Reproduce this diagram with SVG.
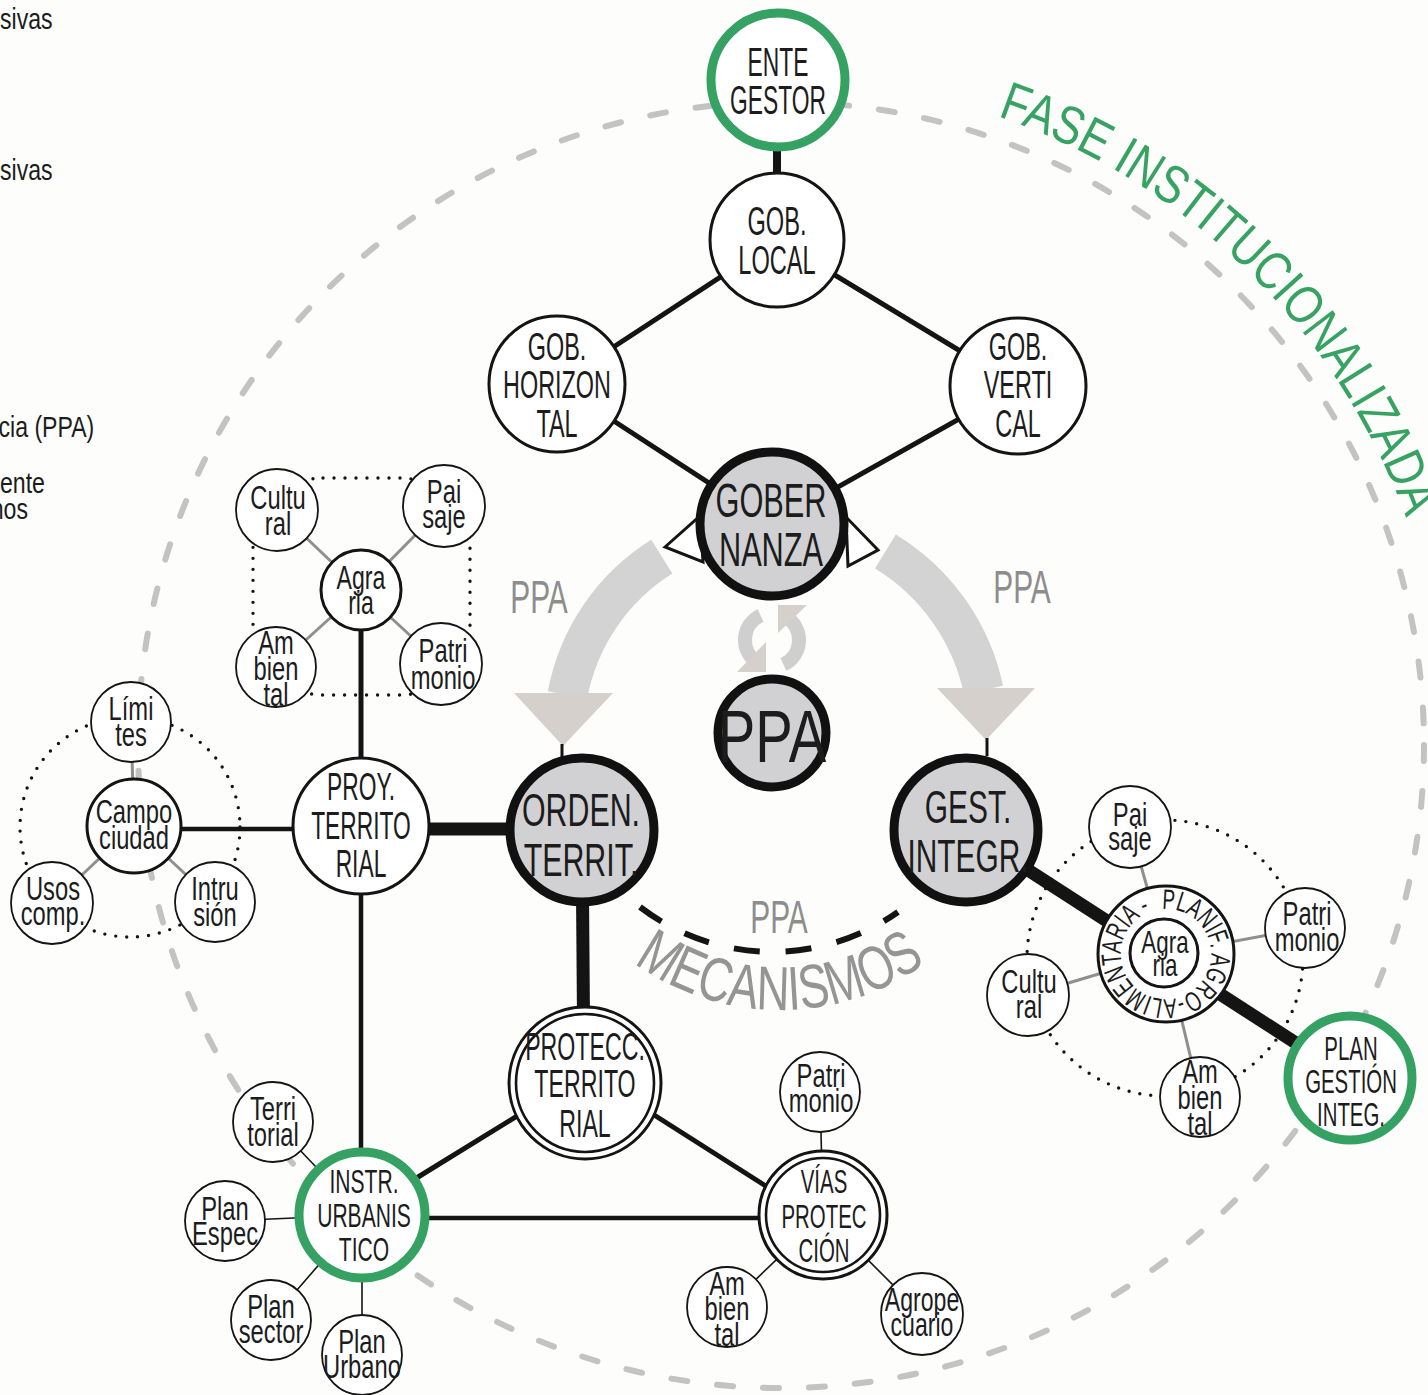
<svg xmlns="http://www.w3.org/2000/svg" width="1428" height="1395" viewBox="0 0 1428 1395">
<defs>
<style>
text{font-family:"Liberation Sans",Arial,sans-serif;fill:#1c1c1c;text-anchor:middle}
.side{text-anchor:start;font-size:30px}
.n{fill:#fff;stroke:#141414;stroke-width:3}
.s{fill:#fff;stroke:#141414;stroke-width:1.8}
.k{fill:#d1d1d3;stroke:#111;stroke-width:9}
.g{fill:#fff;stroke:#35a162;stroke-width:9}
.dbl{fill:none;stroke:#141414;stroke-width:2.6}
.c{stroke:#141414;fill:none}
.gray{stroke:#8f8f8f;stroke-width:3}
.thin{stroke:#141414;stroke-width:1.6}
.dots{fill:none;stroke:#141414;stroke-width:3.4;stroke-linecap:round;stroke-dasharray:0 11}
.ppa{fill:#8d8d8d}
.flow{fill:none;stroke:#d3d3d3;stroke-width:40}
.head{fill:#d6d0cd}
.ref{fill:none;stroke:#cfcfcf;stroke-width:14}
</style>
<path id="faseArc" d="M997.5,116.2 A665,665 0 0 1 1435.9,629.5"/>
<path id="mecArc" d="M563.5,885 A250,250 0 0 0 996.5,885"/>
<path id="ringArc" d="M1162,909.1 A45,45 0 0 1 1170,998.9 A45,45 0 0 1 1162,909.1"/>
</defs>
<rect width="1428" height="1395" fill="#fdfdfb"/>

<g id="side-texts">
<g transform="scale(0.77,1)"><text class="side" x="0" y="29">sivas</text></g>
<g transform="scale(0.77,1)"><text class="side" x="0" y="180">sivas</text></g>
<g transform="scale(0.77,1)"><text class="side" x="-2" y="437">cia (PPA)</text></g>
<g transform="scale(0.77,1)"><text class="side" x="0" y="493">ente</text></g>
<g transform="scale(0.77,1)"><text class="side" x="-12" y="519">nos</text></g>
</g>

<g id="phase-boundary">
<circle cx="781" cy="745" r="643" fill="none" stroke="#c3c3c3" stroke-width="6" stroke-dasharray="16 30" stroke-linecap="round"/>
<text font-size="54" style="fill:#37a363" textLength="592" lengthAdjust="spacingAndGlyphs"><textPath href="#faseArc" textLength="592" lengthAdjust="spacingAndGlyphs" style="text-anchor:start">FASE INSTITUCIONALIZADA</textPath></text>
</g>

<g id="cluster-boundaries">
<rect class="dots" x="253" y="478" width="217" height="217" rx="70"/>
<circle class="dots" cx="130" cy="827" r="110"/>
<circle class="dots" cx="1165" cy="958" r="138"/>
</g>

<g id="flows">
<path class="flow" d="M661.8,556.6 A208,208 0 0 0 567.5,695"/>
<polygon class="head" points="514,693 613,693 563,746"/>
<path class="flow" d="M885.4,551.5 A214,214 0 0 1 983.5,690"/>
<polygon class="head" points="937,688 1035,688 986,740"/>
<path class="ref" d="M760.6,615.5 A27,27 0 0 0 758.5,663.4"/>
<polygon class="head" points="766,642 766,672 737,672"/>
<path class="ref" d="M783.4,664.5 A27,27 0 0 0 785.5,616.6"/>
<polygon class="head" points="778,605 807,605 778,633"/>
<polygon points="665,547 700,516 703,562" fill="#fff" stroke="#141414" stroke-width="3"/>
<polygon points="878,550 846,517 848,566" fill="#fff" stroke="#141414" stroke-width="3"/>
<g transform="translate(539,0) scale(0.65,1)"><text class="ppa" font-size="46" y="613">PPA</text></g>
<g transform="translate(1022,0) scale(0.65,1)"><text class="ppa" font-size="46" y="603">PPA</text></g>
</g>

<g id="connectors">
<line class="c" x1="777" y1="146" x2="777" y2="176" stroke-width="8"/>
<line class="c" x1="777" y1="240" x2="557" y2="384" stroke-width="5"/>
<line class="c" x1="777" y1="240" x2="1018" y2="386" stroke-width="5"/>
<line class="c" x1="557" y1="384" x2="772" y2="524" stroke-width="5"/>
<line class="c" x1="1018" y1="386" x2="772" y2="524" stroke-width="5"/>
<line class="c" x1="361" y1="829" x2="582" y2="829" stroke-width="13"/>
<line class="c" x1="361" y1="590" x2="361" y2="826" stroke-width="5"/>
<line class="c" x1="134" y1="829" x2="361" y2="829" stroke-width="4.5"/>
<line class="c" x1="361" y1="826" x2="361" y2="1215" stroke-width="4.5"/>
<line class="c" x1="582" y1="830" x2="584" y2="1083" stroke-width="13"/>
<line class="c" x1="410" y1="1182" x2="530" y2="1108" stroke-width="5"/>
<line class="c" x1="640" y1="1106" x2="772" y2="1190" stroke-width="5"/>
<line class="c" x1="362" y1="1218" x2="823" y2="1218" stroke-width="4.5"/>
<line class="c" x1="966" y1="830" x2="1350" y2="1078" stroke-width="13"/>
<line class="c" x1="562" y1="744" x2="562" y2="758" stroke-width="3"/>
<line class="c" x1="987" y1="738" x2="987" y2="756" stroke-width="3"/>
<line class="gray" x1="361" y1="590" x2="277" y2="510"/>
<line class="gray" x1="361" y1="590" x2="444" y2="506"/>
<line class="gray" x1="361" y1="590" x2="276" y2="667"/>
<line class="gray" x1="361" y1="590" x2="441" y2="664"/>
<line class="gray" x1="134" y1="826" x2="131" y2="722"/>
<line class="gray" x1="134" y1="826" x2="52" y2="903"/>
<line class="gray" x1="134" y1="826" x2="215" y2="902"/>
<line class="gray" x1="1166" y1="954" x2="1130" y2="827"/>
<line class="gray" x1="1166" y1="954" x2="1305" y2="928"/>
<line class="gray" x1="1166" y1="954" x2="1028" y2="995"/>
<line class="gray" x1="1166" y1="954" x2="1200" y2="1097"/>
<line class="thin" x1="362" y1="1215" x2="273" y2="1122"/>
<line class="thin" x1="362" y1="1215" x2="225" y2="1221"/>
<line class="thin" x1="362" y1="1215" x2="271" y2="1320"/>
<line class="thin" x1="362" y1="1215" x2="362" y2="1355"/>
<line class="thin" x1="823" y1="1215" x2="820" y2="1092"/>
<line class="thin" x1="823" y1="1215" x2="727" y2="1307"/>
<line class="thin" x1="823" y1="1215" x2="922" y2="1314"/>
<path d="M640,907 A218,218 0 0 0 898,912" fill="none" stroke="#141414" stroke-width="6" stroke-dasharray="26 25.8"/>
</g>

<g id="mecanismos">
<g transform="translate(779,0) scale(0.65,1)"><text class="ppa" font-size="46" y="933">PPA</text></g>
<text font-size="62" style="fill:#959595" textLength="312" lengthAdjust="spacingAndGlyphs"><textPath href="#mecArc" startOffset="50%" textLength="312" lengthAdjust="spacingAndGlyphs">MECANISMOS</textPath></text>
</g>

<g id="ente-gestor"><circle class="g" cx="778" cy="80" r="67"/>
<g transform="translate(778,0) scale(0.57,1)"><text font-size="40" y="76">ENTE</text><text font-size="40" y="114">GESTOR</text></g></g>

<g id="gob-local"><circle class="n" cx="777" cy="240" r="67"/>
<g transform="translate(777,0) scale(0.59,1)"><text font-size="40" y="235">GOB.</text><text font-size="40" y="274">LOCAL</text></g></g>

<g id="gob-horizontal"><circle class="n" cx="557" cy="384" r="68"/>
<g transform="translate(557,0) scale(0.6,1)"><text font-size="39" y="360">GOB.</text><text font-size="39" y="398">HORIZON</text><text font-size="39" y="437">TAL</text></g></g>

<g id="gob-vertical"><circle class="n" cx="1018" cy="386" r="68"/>
<g transform="translate(1018,0) scale(0.6,1)"><text font-size="39" y="360">GOB.</text><text font-size="39" y="398">VERTI</text><text font-size="39" y="437">CAL</text></g></g>

<g id="gobernanza"><circle class="k" cx="772" cy="524" r="72"/>
<g transform="translate(771,0) scale(0.64,1)"><text font-size="48" y="517">GOBER</text><text font-size="48" y="566">NANZA</text></g></g>

<g id="ppa"><circle class="k" cx="772" cy="733" r="54" stroke-width="8"/>
<g transform="translate(772,0) scale(0.75,1)"><text font-size="75" y="762">PPA</text></g></g>

<g id="orden-territ"><circle class="k" cx="582" cy="830" r="72"/>
<g transform="translate(581,0) scale(0.66,1)"><text font-size="46" y="826">ORDEN.</text><text font-size="46" y="876">TERRIT.</text></g></g>

<g id="gest-integr"><circle class="k" cx="966" cy="830" r="72"/>
<g transform="translate(968,0) scale(0.65,1)"><text font-size="46" y="823">GEST.</text><text font-size="46" y="872">INTEGR.</text></g></g>

<g id="proy-territorial"><circle class="n" cx="361" cy="826" r="68"/>
<g transform="translate(361,0) scale(0.6,1)"><text font-size="38" y="800">PROY.</text><text font-size="38" y="839">TERRITO</text><text font-size="38" y="877">RIAL</text></g></g>

<g id="agraria-1"><circle class="n" cx="361" cy="590" r="40"/>
<g transform="translate(361,0) scale(0.7,1)"><text font-size="33" y="589">Agra</text><text font-size="33" y="614">ria</text></g></g>
<g id="cultural-1"><circle class="s" cx="277" cy="510" r="41"/>
<g transform="translate(278,0) scale(0.72,1)"><text font-size="33" y="509">Cultu</text><text font-size="33" y="535">ral</text></g></g>
<g id="paisaje-1"><circle class="s" cx="444" cy="506" r="41"/>
<g transform="translate(444,0) scale(0.72,1)"><text font-size="33" y="503">Pai</text><text font-size="33" y="528">saje</text></g></g>
<g id="ambiental-1"><circle class="s" cx="276" cy="667" r="40"/>
<g transform="translate(276,0) scale(0.72,1)"><text font-size="33" y="654">Am</text><text font-size="33" y="680">bien</text><text font-size="33" y="706">tal</text></g></g>
<g id="patrimonio-1"><circle class="s" cx="441" cy="664" r="41"/>
<g transform="translate(443,0) scale(0.72,1)"><text font-size="33" y="662">Patri</text><text font-size="33" y="689">monio</text></g></g>

<g id="campo-ciudad"><circle class="n" cx="134" cy="826" r="47"/>
<g transform="translate(134,0) scale(0.72,1)"><text font-size="33" y="823">Campo</text><text font-size="33" y="849">ciudad</text></g></g>
<g id="limites"><circle class="s" cx="131" cy="722" r="40"/>
<g transform="translate(131,0) scale(0.72,1)"><text font-size="33" y="720">Lími</text><text font-size="33" y="746">tes</text></g></g>
<g id="usos-comp"><circle class="s" cx="52" cy="903" r="41"/>
<g transform="translate(53,0) scale(0.72,1)"><text font-size="33" y="900">Usos</text><text font-size="33" y="925">comp.</text></g></g>
<g id="intrusion"><circle class="s" cx="215" cy="902" r="40"/>
<g transform="translate(215,0) scale(0.72,1)"><text font-size="33" y="900">Intru</text><text font-size="33" y="926">sión</text></g></g>

<g id="instr-urbanistico"><circle class="g" cx="362" cy="1215" r="63"/>
<g transform="translate(364,0) scale(0.62,1)"><text font-size="34" y="1193">INSTR.</text><text font-size="34" y="1227">URBANIS</text><text font-size="34" y="1261">TICO</text></g></g>
<g id="territorial"><circle class="s" cx="273" cy="1122" r="40"/>
<g transform="translate(273,0) scale(0.72,1)"><text font-size="33" y="1120">Terri</text><text font-size="33" y="1146">torial</text></g></g>
<g id="plan-espec"><circle class="s" cx="225" cy="1221" r="40"/>
<g transform="translate(225,0) scale(0.72,1)"><text font-size="33" y="1220">Plan</text><text font-size="33" y="1245">Espec</text></g></g>
<g id="plan-sector"><circle class="s" cx="271" cy="1320" r="40"/>
<g transform="translate(271,0) scale(0.72,1)"><text font-size="33" y="1318">Plan</text><text font-size="33" y="1343">sector</text></g></g>
<g id="plan-urbano"><circle class="s" cx="362" cy="1355" r="40"/>
<g transform="translate(362,0) scale(0.72,1)"><text font-size="33" y="1353">Plan</text><text font-size="33" y="1378">Urbano</text></g></g>

<g id="protecc-territorial"><circle class="n" cx="585" cy="1083" r="76" stroke-width="2.6"/><circle class="dbl" cx="585" cy="1083" r="69"/>
<g transform="translate(585,0) scale(0.61,1)"><text font-size="38" y="1060">PROTECC.</text><text font-size="38" y="1097">TERRITO</text><text font-size="38" y="1137">RIAL</text></g></g>

<g id="vias-proteccion"><circle class="n" cx="823" cy="1215" r="64" stroke-width="2.6"/><circle class="dbl" cx="823" cy="1215" r="57"/>
<g transform="translate(824,0) scale(0.6,1)"><text font-size="34" y="1193">VÍAS</text><text font-size="34" y="1228">PROTEC</text><text font-size="34" y="1262">CIÓN</text></g></g>
<g id="patrimonio-2"><circle class="s" cx="820" cy="1092" r="40"/>
<g transform="translate(821,0) scale(0.72,1)"><text font-size="33" y="1087">Patri</text><text font-size="33" y="1112">monio</text></g></g>
<g id="ambiental-2"><circle class="s" cx="727" cy="1307" r="40"/>
<g transform="translate(727,0) scale(0.72,1)"><text font-size="33" y="1295">Am</text><text font-size="33" y="1320">bien</text><text font-size="33" y="1346">tal</text></g></g>
<g id="agropecuario"><circle class="s" cx="922" cy="1314" r="41"/>
<g transform="translate(922,0) scale(0.7,1)"><text font-size="33" y="1311">Agrope</text><text font-size="33" y="1336">cuario</text></g></g>

<g id="agraria-2"><circle class="n" cx="1166" cy="954" r="68"/><circle class="n" cx="1164" cy="953" r="34"/>
<text font-size="28" textLength="276" lengthAdjust="spacingAndGlyphs"><textPath href="#ringArc" textLength="276" lengthAdjust="spacingAndGlyphs" style="text-anchor:start">PLANIF. AGRO-ALIMENTARIA -&#160;</textPath></text>
<g transform="translate(1165,0) scale(0.7,1)"><text font-size="32" y="953">Agra</text><text font-size="32" y="976">ria</text></g></g>
<g id="paisaje-2"><circle class="s" cx="1130" cy="827" r="41"/>
<g transform="translate(1130,0) scale(0.72,1)"><text font-size="33" y="826">Pai</text><text font-size="33" y="850">saje</text></g></g>
<g id="patrimonio-3"><circle class="s" cx="1305" cy="928" r="40"/>
<g transform="translate(1307,0) scale(0.72,1)"><text font-size="33" y="925">Patri</text><text font-size="33" y="951">monio</text></g></g>
<g id="cultural-2"><circle class="s" cx="1028" cy="995" r="41"/>
<g transform="translate(1029,0) scale(0.72,1)"><text font-size="33" y="993">Cultu</text><text font-size="33" y="1018">ral</text></g></g>
<g id="ambiental-3"><circle class="s" cx="1200" cy="1097" r="40"/>
<g transform="translate(1200,0) scale(0.72,1)"><text font-size="33" y="1083">Am</text><text font-size="33" y="1109">bien</text><text font-size="33" y="1135">tal</text></g></g>

<g id="plan-gestion"><circle class="g" cx="1350" cy="1078" r="62"/>
<g transform="translate(1351,0) scale(0.6,1)"><text font-size="34" y="1060">PLAN</text><text font-size="34" y="1093">GESTIÓN</text><text font-size="34" y="1126">INTEG.</text></g></g>
</svg>
